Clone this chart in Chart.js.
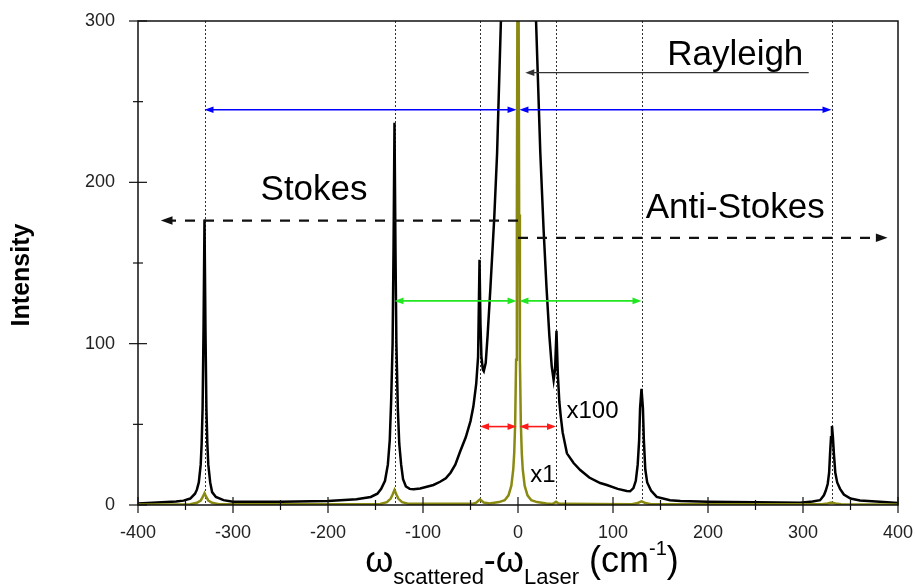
<!DOCTYPE html>
<html>
<head>
<meta charset="utf-8">
<script src="https://cdn.jsdelivr.net/npm/chart.js@4.4.1/dist/chart.umd.min.js"></script>
<style>
  html, body { margin: 0; padding: 0; background: #fff; }
  #wrap { width: 915px; height: 586px; position: relative; }
</style>
</head>
<body>
<div id="wrap"><canvas id="raman"></canvas></div>
<script>
// === Spectrum data: [Raman shift (cm-1), intensity] ===
// x100 trace (black)
const spectrumX100 = [
  [-400, 1], [-380, 1.5], [-360, 2.2], [-352, 2.7], [-345, 4], [-340, 7], [-338, 9.5], [-336, 14],
  [-334, 25], [-333, 38], [-332, 60], [-331, 110], [-330, 177], [-329, 110], [-328, 60], [-327, 38],
  [-326, 25], [-324, 14], [-322, 8], [-318, 5], [-310, 3], [-300, 2], [-250, 2], [-200, 2.5],
  [-170, 3.5], [-155, 5], [-148, 7], [-144, 10], [-140, 15], [-137, 25], [-135, 40], [-133.5, 65],
  [-132, 100], [-131, 160], [-130, 237], [-129, 160], [-128, 100], [-126.5, 60], [-125, 38], [-123, 25],
  [-121, 16], [-118, 11.5], [-114, 10], [-110, 9.7], [-103, 10.2], [-95, 11.5], [-89, 12.4], [-82, 14.4],
  [-76, 16.5], [-71, 20], [-66, 25], [-61, 33], [-55, 42], [-50, 52], [-47, 61], [-44, 75],
  [-42, 92], [-40.5, 152], [-39.5, 112], [-38.5, 92], [-37, 84], [-36, 83], [-34, 88],
  [-32, 105], [-29, 135], [-25, 178], [-22, 218], [-18, 300], [-15, 420], [-10, 900], [-5, 3000],
  [0, 9000], [5, 3000], [10, 900], [15, 420], [19, 300], [23.5, 218], [27, 170], [30, 135],
  [33, 105], [35.5, 86], [37.5, 77.5], [39, 84], [40.5, 108], [42, 80], [43.5, 64], [45, 55],
  [47, 45], [51.5, 32], [58.5, 26], [65.5, 21.7], [75, 17], [86.5, 13.6], [93.5, 12.4], [105, 10],
  [114.5, 8.7], [118, 8.5], [121.5, 10.5], [124, 15], [126, 25], [127.5, 40], [128.5, 60], [130, 72],
  [131.5, 60], [132.5, 40], [134, 22], [136, 14], [140, 9], [146, 5], [160, 3], [171, 2.5],
  [200, 2], [250, 1.7], [297, 1.4], [310, 2.2], [318, 3], [322, 6], [324, 9], [326, 13],
  [327.5, 20], [328.5, 32], [329.5, 42], [330.5, 49], [331.5, 42], [332.5, 32], [334, 20], [336, 14],
  [339, 10], [343, 6.5], [350, 4], [360, 2.8], [381, 2], [400, 1.2]
];

// x1 trace (olive)
const spectrumX1 = [
  [-400, 0.3], [-345, 0.5], [-338, 1.4], [-334, 2.8], [-332, 4.8], [-330, 7.3], [-328, 4.8], [-326, 2.8],
  [-322, 1.4], [-315, 0.5], [-145, 0.6], [-138, 1.8], [-134, 4], [-132, 6.5], [-130, 9.3], [-128, 6.5],
  [-126, 4], [-122, 1.8], [-115, 0.7], [-48, 0.7], [-44, 1.5], [-42, 2.5], [-40, 3.5], [-38, 2.5],
  [-36, 1.5], [-30, 1], [-20, 1.8], [-14, 3], [-10, 6], [-7, 12], [-5, 22], [-4, 32],
  [-3, 50], [-2, 90], [-1.2, 180], [-0.6, 320], [0, 10000], [0.6, 320], [1.2, 180], [2, 90],
  [3, 50], [4, 32], [5, 22], [7, 12], [10, 6], [14, 3], [20, 1.8], [30, 1],
  [36, 0.7], [38, 1.2], [40, 2], [42, 1.2], [44, 0.7], [120, 0.5], [126, 1.2], [128, 1.8],
  [130, 2.3], [132, 1.8], [134, 1.2], [140, 0.5], [320, 0.4], [326, 0.9], [328, 1.3], [330, 1.6],
  [332, 1.3], [334, 0.9], [340, 0.4], [400, 0.3]
];

// phonon positions (dotted guide lines)
const phononShifts = [-330, -130, -40, 40, 130, 330];

// === Annotations (data units) ===
const arrows = [
  { y: 245, from: -330, to: -1.5, color: '#0000ff', width: 1.6, dash: [], heads: [true, true] },
  { y: 245, from: 1.5, to: 330, color: '#0000ff', width: 1.6, dash: [], heads: [true, true] },
  { y: 126.5, from: -130, to: -1.5, color: '#22e622', width: 1.6, dash: [], heads: [true, true] },
  { y: 126.5, from: 1.5, to: 130, color: '#22e622', width: 1.6, dash: [], heads: [true, true] },
  { y: 48.6, from: -40, to: -1.5, color: '#ff1a1a', width: 1.6, dash: [], heads: [true, true] },
  { y: 48.6, from: 1.5, to: 40, color: '#ff1a1a', width: 1.6, dash: [], heads: [true, true] },
  { y: 176.3, from: 0, to: -376, color: '#111', width: 2.2, dash: [10, 9], heads: [false, true] },
  { y: 165.6, from: 0, to: 389, color: '#111', width: 2.2, dash: [10, 9], heads: [false, true] },
  { y: 268, from: 306, to: 7.7, color: '#333', width: 1.2, dash: [], heads: [false, true] }
];

const notes = [
  { text: 'Rayleigh', x: 157, y: 273, size: 35 },
  { text: 'Stokes', x: -271, y: 189, size: 35 },
  { text: 'Anti-Stokes', x: 134.5, y: 178, size: 35 },
  { text: 'x100', x: 51, y: 54, size: 24 },
  { text: 'x1', x: 13, y: 14.5, size: 24 }
];

const FONT = "'Liberation Sans', Arial, sans-serif";

function arrowHead(ctx, tipX, y, dir, color, len, half) {
  ctx.fillStyle = color;
  ctx.beginPath();
  ctx.moveTo(tipX, y);
  ctx.lineTo(tipX - dir * len, y - half);
  ctx.lineTo(tipX - dir * len, y + half);
  ctx.closePath();
  ctx.fill();
}

// === Decorations plugin ===
const ramanDecor = {
  id: 'ramanDecor',
  beforeDatasetsDraw(chart) {
    const { ctx, chartArea: a, scales: { x } } = chart;
    ctx.save();
    ctx.strokeStyle = '#333';
    ctx.lineWidth = 1;
    ctx.setLineDash([2, 2]);
    phononShifts.forEach(s => {
      const px = Math.round(x.getPixelForValue(s)) + 0.5;
      ctx.beginPath();
      ctx.moveTo(px, a.top);
      ctx.lineTo(px, a.bottom);
      ctx.stroke();
    });
    ctx.restore();
  },
  afterDatasetsDraw(chart) {
    const { ctx, chartArea: a, scales: { x, y } } = chart;
    ctx.save();

    // frame
    ctx.strokeStyle = '#111';
    ctx.lineWidth = 1.5;
    ctx.strokeRect(a.left, a.top, a.right - a.left, a.bottom - a.top);

    // ticks crossing the axes
    ctx.lineWidth = 1.2;
    x.ticks.forEach(t => {
      const len = t.value % 100 === 0 ? 8 : 5;
      const px = x.getPixelForValue(t.value);
      ctx.beginPath();
      ctx.moveTo(px, a.bottom - len);
      ctx.lineTo(px, a.bottom + len);
      ctx.stroke();
    });
    y.ticks.forEach(t => {
      const len = t.value % 100 === 0 ? 9 : 5;
      const py = y.getPixelForValue(t.value);
      ctx.beginPath();
      ctx.moveTo(a.left - len, py);
      ctx.lineTo(a.left + len, py);
      ctx.stroke();
    });

    // arrows
    arrows.forEach(ar => {
      const py = y.getPixelForValue(ar.y);
      const x1 = x.getPixelForValue(ar.from);
      const x2 = x.getPixelForValue(ar.to);
      const dir = Math.sign(x2 - x1);
      const big = ar.dash.length ? 1.3 : 1;
      const len = 9 * big, half = 3.3 * big;
      ctx.strokeStyle = ar.color;
      ctx.lineWidth = ar.width;
      ctx.setLineDash(ar.dash);
      ctx.beginPath();
      ctx.moveTo(ar.heads[0] ? x1 + dir * len * 0.8 : x1, py);
      ctx.lineTo(ar.heads[1] ? x2 - dir * len * 0.8 : x2, py);
      ctx.stroke();
      ctx.setLineDash([]);
      if (ar.heads[0]) arrowHead(ctx, x1, py, -dir, ar.color, len, half);
      if (ar.heads[1]) arrowHead(ctx, x2, py, dir, ar.color, len, half);
    });

    // text notes
    ctx.fillStyle = '#000';
    ctx.textBaseline = 'alphabetic';
    ctx.textAlign = 'left';
    notes.forEach(n => {
      ctx.font = `${n.size}px ${FONT}`;
      ctx.fillText(n.text, x.getPixelForValue(n.x), y.getPixelForValue(n.y));
    });

    // y title
    ctx.save();
    ctx.translate(22, 275);
    ctx.rotate(-Math.PI / 2);
    ctx.font = `bold 25px ${FONT}`;
    ctx.textAlign = 'center';
    ctx.textBaseline = 'middle';
    ctx.fillText('Intensity', 0, 0);
    ctx.restore();

    // x title with sub/superscripts
    const parts = [
      { t: 'ω', size: 36, dy: 0 },
      { t: 'scattered', size: 22, dy: 12 },
      { t: '-ω', size: 36, dy: 0 },
      { t: 'Laser', size: 22, dy: 12 },
      { t: ' (cm', size: 36, dy: 0 },
      { t: '-1', size: 20, dy: -17 },
      { t: ')', size: 36, dy: 0 }
    ];
    let total = 0;
    parts.forEach(p => { ctx.font = `${p.size}px ${FONT}`; p.w = ctx.measureText(p.t).width; total += p.w; });
    let cx = (a.left + a.right) / 2 - total / 2 + 4;
    const base = 572;
    parts.forEach(p => {
      ctx.font = `${p.size}px ${FONT}`;
      ctx.fillText(p.t, cx, base + p.dy);
      cx += p.w;
    });

    ctx.restore();
  }
};

const toPoints = arr => arr.map(([s, v]) => ({ x: s, y: v }));

new Chart(document.getElementById('raman'), {
  type: 'line',
  data: {
    datasets: [
      {
        label: 'x1',
        data: toPoints(spectrumX1),
        borderColor: '#8a8a12',
        borderWidth: 2.5,
        pointRadius: 0,
        tension: 0,
        clip: 0
      },
      {
        label: 'x100',
        data: toPoints(spectrumX100),
        borderColor: '#000',
        borderWidth: 2.5,
        pointRadius: 0,
        tension: 0,
        clip: 0
      }
    ]
  },
  options: {
    responsive: true,
    maintainAspectRatio: false,
    animation: false,
    events: [],
    layout: { padding: { left: 0, right: 17, top: 21, bottom: 0 } },
    plugins: { legend: { display: false }, tooltip: { enabled: false } },
    scales: {
      x: {
        type: 'linear',
        min: -400,
        max: 400,
        afterFit: s => {
          s.height = 81;
          s.paddingLeft = 0;
          s.paddingRight = 0;
        },
        grid: { display: false },
        border: { display: false },
        ticks: {
          stepSize: 50,
          autoSkip: false,
          maxRotation: 0,
          padding: 9,
          color: '#222',
          font: { family: FONT, size: 18 },
          callback: v => (v % 100 === 0 ? v : '')
        }
      },
      y: {
        min: 0,
        max: 300,
        afterFit: s => {
          s.width = 138;
          s.paddingTop = 0;
          s.paddingBottom = 0;
        },
        grid: { display: false },
        border: { display: false },
        ticks: {
          stepSize: 50,
          autoSkip: false,
          padding: 15,
          color: '#222',
          font: { family: FONT, size: 18 },
          callback: v => (v % 100 === 0 ? v : '')
        }
      }
    }
  },
  plugins: [ramanDecor]
});
</script>
</body>
</html>
